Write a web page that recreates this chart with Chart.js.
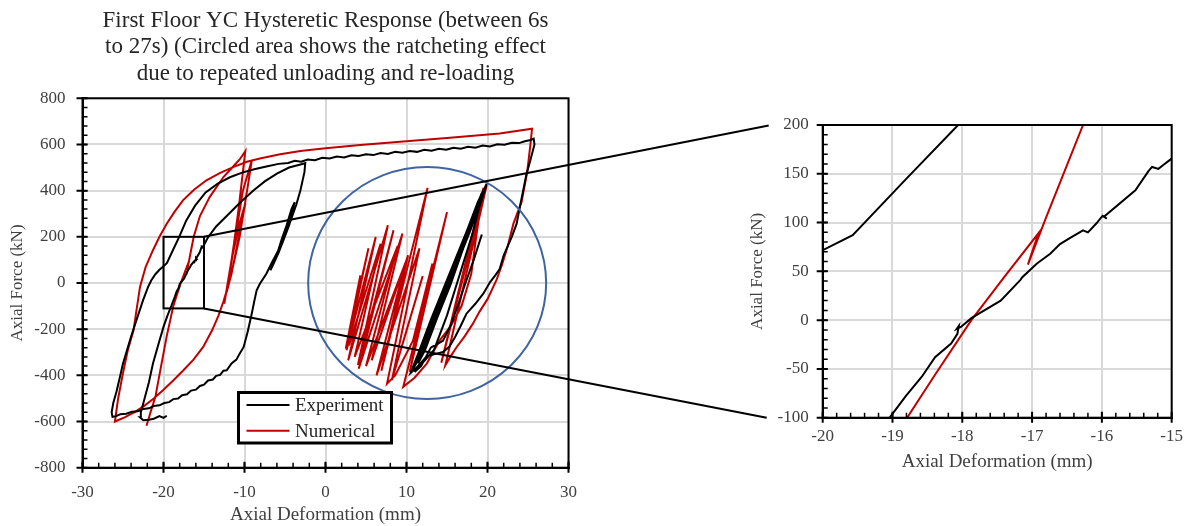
<!DOCTYPE html>
<html><head><meta charset="utf-8">
<script src="https://cdn.jsdelivr.net/npm/chart.js@4/dist/chart.umd.min.js"></script>
<style>
html,body{margin:0;padding:0;background:#fff;overflow:hidden}
#wrap{position:relative;width:1192px;height:526px}
canvas{position:absolute;left:0;top:0}
</style></head>
<body><div id="wrap"><canvas id="c1" width="1192" height="526"></canvas><canvas id="c2" width="1192" height="526"></canvas></div>
<script>
// ---------- DATA (Axial Deformation mm, Axial Force kN) ----------
const titleLines = ['First Floor YC Hysteretic Response (between 6s','to 27s) (Circled area shows the ratcheting effect','due to repeated unloading and re-loading'];
const seriesNames = ['Experiment','Numerical'];
const xTitle = 'Axial Deformation (mm)';
const yTitle = 'Axial Force (kN)';
const mainXTicks = [-30,-20,-10,0,10,20,30];
const mainYTicks = [-800,-600,-400,-200,0,200,400,600,800];
const zoomXTicks = [-20,-19,-18,-17,-16,-15];
const zoomYTicks = [-100,-50,0,50,100,150,200];

// Experiment (black) segments
const expStartTail = [[-19.6,-575],[-20.0,-584],[-20.5,-576],[-21.2,-588],[-21.8,-592],[-22.5,-594],[-22.9,-582]];
const expInnerRise = [[-22.8,-560],[-22.5,-522],[-21.8,-430],[-21.3,-349],[-20.6,-262],[-20.0,-190],[-19.5,-140],[-19.03,-99],[-18.81,-78],[-18.58,-58],[-18.39,-38],[-18.16,-24],[-18.07,-14],[-18.05,-6],[-18.08,-9],[-18.02,-7],[-17.87,2],[-17.45,20],[-17.17,41],[-17.14,44],[-16.93,58],[-16.74,68],[-16.6,78],[-16.46,84],[-16.27,92],[-16.2,90],[-16.08,99],[-15.99,107],[-15.93,104],[-15.97,106],[-15.52,133],[-15.33,153],[-15.28,157],[-15.19,155],[-15.12,159],[-15.01,165],[-14.5,198],[-13.5,245],[-12.2,290],[-10.5,350],[-8.9,401],[-7.5,440],[-6.0,474],[-4.5,500],[-3.2,512],[-2.5,519]];
const expUnloadBand = [[-2.6,480],[-3.1,401],[-3.6,340],[-4.0,300],[-4.6,240],[-5.2,185],[-5.8,130],[-6.4,84],[-6.8,55],[-6.2,100],[-5.4,190],[-4.8,250],[-4.2,320],[-3.8,350],[-4.3,290],[-5.0,215],[-5.7,150],[-6.6,90],[-7.3,40],[-8.1,-3]];
const expLowerBranch = [[-8.5,-32],[-8.8,-80],[-9.1,-132],[-9.6,-210],[-10.1,-277],[-10.6,-306],[-11.0,-332],[-11.6,-348],[-12.2,-378],[-12.6,-380],[-13.0,-398],[-13.5,-402],[-13.9,-418],[-14.5,-422],[-15.0,-440],[-15.5,-446],[-16.0,-462],[-16.6,-466],[-17.1,-482],[-17.7,-486],[-18.2,-500],[-18.8,-503],[-19.3,-516],[-19.9,-520],[-20.5,-530],[-21.2,-533],[-21.8,-543],[-22.5,-546],[-23.2,-556],[-23.9,-558],[-24.6,-566],[-25.3,-568],[-25.9,-577],[-26.3,-580]];
const expOuterRise = [[-26.4,-560],[-26.2,-520],[-25.8,-470],[-25.4,-410],[-25.0,-349],[-24.5,-290],[-24.0,-232],[-23.5,-178],[-23.0,-125],[-22.5,-72],[-21.9,-17],[-21.5,12],[-21.0,38],[-20.5,57],[-19.99,72],[-19.57,87],[-18.8,145],[-18.06,200],[-17.2,270],[-16.1,335],[-14.8,392],[-13.3,430],[-11.8,458],[-10.3,478],[-8.8,493],[-7.3,505],[-5.8,516],[-4.6,520],[-3.8,529],[-3.0,525],[-2.2,535],[-1.3,532],[-0.4,542],[0.5,539],[1.4,548],[2.3,544],[3.2,553],[4.1,550],[5.0,558],[5.9,554],[6.8,563],[7.7,559],[8.6,568],[9.5,564],[10.4,572],[11.3,568],[12.2,577],[13.1,573],[14.0,581],[14.9,577],[15.8,586],[16.7,582],[17.6,590],[18.5,586],[19.4,595],[20.3,591],[21.2,601],[22.1,599],[23.0,607],[23.9,606],[24.6,614],[25.2,618],[25.7,625]];
const expRightUnload = [[25.8,600],[25.5,560],[25.2,520],[24.8,470],[24.4,400],[24.0,330],[23.6,257],[23.0,200],[22.5,160],[22.0,120],[21.5,60],[21.0,35],[20.3,3],[19.5,-45],[18.5,-90],[17.4,-133],[16.7,-185],[16.0,-234],[15.3,-275],[14.5,-299],[13.5,-308],[12.5,-317],[11.8,-345],[11.1,-372],[10.5,-390]];
const expRatchet = [[11.5,-300],[13.0,-160],[14.5,-30],[16.0,100],[17.5,230],[18.8,350],[19.9,430],[19.2,350],[17.8,220],[16.2,80],[14.6,-60],[13.0,-200],[11.6,-320],[10.8,-375],[11.9,-280],[13.4,-150],[15.0,0],[16.6,150],[18.2,290],[19.6,410],[18.9,330],[17.2,170],[15.6,20],[14.0,-120],[12.4,-260],[11.2,-350],[12.2,-270],[13.8,-120],[15.4,30],[17.0,180],[18.5,320],[19.3,390],[18.4,290],[16.8,130],[15.2,-20],[13.6,-160],[12.0,-310],[11.4,-345],[12.6,-240],[14.2,-90],[15.8,60],[17.4,210],[18.9,350],[19.7,415],[18.7,310],[17.0,150],[15.4,-10],[13.8,-150],[12.3,-290],[11.7,-330],[12.2,-250],[13.6,-130],[15.2,20],[16.9,170],[18.6,330],[19.5,400],[18.2,220],[16.6,40],[15.0,-140],[13.4,-290],[11.0,-385],[11.8,-360],[13.0,-280],[14.5,-250],[15.5,-180],[16.5,-80],[17.4,12],[18.3,100],[19.3,210]];

// Numerical (red) segments
const numInnerRise = [[-22.1,-618],[-21.6,-560],[-21.0,-493],[-20.3,-360],[-19.6,-230],[-19.1,-150],[-18.79,-100],[-18.4,-57],[-17.87,0],[-17.4,44],[-16.91,89],[-17.06,57],[-16.8,105],[-16.27,200],[-15.5,290],[-14.3,372],[-12.6,459],[-11.2,512],[-10.6,535],[-9.9,571]];
const numPeakCycles = [[-10.2,480],[-10.7,330],[-11.3,170],[-11.9,30],[-12.5,-90],[-11.6,100],[-10.6,260],[-9.9,344],[-10.6,220],[-11.6,40],[-12.2,-40],[-11.2,180],[-10.2,400],[-9.1,531]];
const numLowerBranch = [[-9.5,440],[-10.0,330],[-10.6,200],[-11.3,90],[-12.0,-10],[-12.6,-80],[-13.2,-140],[-14.0,-205],[-15.1,-277],[-16.3,-332],[-17.6,-380],[-18.8,-422],[-20.0,-462],[-21.2,-500],[-22.3,-530],[-23.5,-558],[-24.8,-582],[-26.0,-600]];
const numOuterRise = [[-25.6,-500],[-25.0,-390],[-24.4,-290],[-23.7,-205],[-23.3,-110],[-22.9,-17],[-22.2,70],[-21.3,142],[-20.5,200],[-19.6,257],[-18.6,310],[-17.6,358],[-16.2,405],[-14.7,445],[-13.0,477],[-11.4,502],[-9.7,525],[-8.1,539],[-5.6,558],[-3.1,572],[0.0,584],[4.3,598],[9.2,612],[15.0,628],[21.5,648],[25.5,668]];
const numRightUnload = [[25.3,600],[24.9,480],[24.2,350],[23.2,257],[22.5,160],[21.8,80],[21.1,12],[20.0,-70],[19.0,-125],[18.2,-176],[17.2,-230],[16.2,-277],[15.4,-320],[14.8,-356]];
const numRatchet = [[19.9,423],[14.3,-345],[19.5,412],[18.6,200],[18.0,40],[16.8,-100],[15.4,-190],[14.1,-248],[12.5,-349],[11.0,-410],[9.6,-450],[15.0,307],[10.4,-385],[13.2,84],[10.8,-250],[8.6,-400],[7.6,-436],[12.6,412],[6.9,-380],[10.2,120],[5.7,-335],[9.5,214],[4.1,-371],[8.4,228],[4.0,-355],[7.7,250],[2.8,-335],[6.2,199],[2.6,-291],[5.3,150],[2.5,-285],[4.3,33],[2.9,-270],[6.8,170],[3.6,-320],[8.9,160],[5.0,-360],[9.9,90],[6.3,-400],[11.6,150],[8.2,-420],[12.0,30],[9.2,-300]];

// Annotations (data coordinates)
const zoomBox = {xMin:-20, xMax:-15, yMin:-110, yMax:200};
const ratchetCircle = {x:12.55, y:0};

// ---------- BUILD ----------
const experiment = [].concat(expStartTail, expInnerRise, expUnloadBand, expLowerBranch, expOuterRise, expRightUnload, expRatchet).map(([x,y])=>({x,y}));
const numerical = [].concat(numInnerRise, numPeakCycles, numLowerBranch, numOuterRise, numRightUnload, numRatchet).map(([x,y])=>({x,y}));

const SERIF = '"Liberation Serif", "Times New Roman", serif';
const TXT = '#404040';
const BLACK = '#000000', RED = '#c00000', BLUE = '#3f64a0';

function datasets(clip){
  return [
    {label:seriesNames[0], data:experiment, showLine:true, borderColor:BLACK, backgroundColor:BLACK, borderWidth:2, pointRadius:0, clip},
    {label:seriesNames[1], data:numerical, showLine:true, borderColor:RED, backgroundColor:RED, borderWidth:2, pointRadius:0, clip}
  ];
}

function axisDecor(chart, xMinor, yMinor){
  const {ctx, chartArea:a, scales:{x,y}} = chart;
  ctx.save();
  ctx.strokeStyle = '#000';
  ctx.lineWidth = 2;
  ctx.strokeRect(a.left, a.top, a.right-a.left, a.bottom-a.top);
  ctx.beginPath();
  ctx.lineWidth = 2;
  x.ticks.forEach(t=>{const p=x.getPixelForValue(t.value); ctx.moveTo(p,a.bottom+5); ctx.lineTo(p,a.bottom-6);});
  y.ticks.forEach(t=>{const p=y.getPixelForValue(t.value); ctx.moveTo(a.left-6,p); ctx.lineTo(a.left+5,p);});
  ctx.stroke();
  ctx.beginPath();
  ctx.lineWidth = 1.5;
  for(let v=x.min; v<=x.max+1e-9; v+=xMinor){const p=x.getPixelForValue(v); ctx.moveTo(p,a.bottom); ctx.lineTo(p,a.bottom-5);}
  for(let v=y.min; v<=y.max+1e-9; v+=yMinor){const p=y.getPixelForValue(v); ctx.moveTo(a.left,p); ctx.lineTo(a.left+5,p);}
  ctx.stroke();
  ctx.restore();
}

function scaleOpts(min,max,step,ticksArr,isX,labPad,titlePad,fit){
  return {
    type:'linear', min, max,
    afterBuildTicks: s => { s.ticks = ticksArr.map(v=>({value:v})); },
    ticks:{stepSize:step, font:{family:SERIF,size:17}, color:TXT, padding:labPad},
    grid:{color:'#d9d9d9', lineWidth:2, drawTicks:false},
    border:{display:true, color:'#000', width:2},
    title:{display:true, text:isX?xTitle:yTitle, font:{family:SERIF,size:isX?19:17}, color:TXT, padding:{top:titlePad,bottom:titlePad}},
    afterFit: s => { if(isX) s.height = fit; else s.width = fit; }
  };
}

const mainPlugin = {
  id:'mainDecor',
  afterDatasetsDraw(chart){
    const {ctx, chartArea:a, scales:{x,y}} = chart;
    axisDecor(chart, 2, 40);
    ctx.save();
    // circle
    ctx.strokeStyle = BLUE; ctx.lineWidth = 2;
    ctx.beginPath();
    ctx.ellipse(x.getPixelForValue(ratchetCircle.x), y.getPixelForValue(ratchetCircle.y), 119, 116, 0, 0, Math.PI*2);
    ctx.stroke();
    // zoom box
    ctx.strokeStyle = '#000'; ctx.lineWidth = 2;
    const bx0 = x.getPixelForValue(zoomBox.xMin), bx1 = x.getPixelForValue(zoomBox.xMax);
    const by0 = y.getPixelForValue(zoomBox.yMax), by1 = y.getPixelForValue(zoomBox.yMin);
    ctx.strokeRect(bx0, by0, bx1-bx0, by1-by0);
    // legend
    const L = {l:238.5, t:392.5, r:391.5, b:443};
    ctx.fillStyle = '#fff'; ctx.fillRect(L.l, L.t, L.r-L.l, L.b-L.t);
    ctx.lineWidth = 3; ctx.strokeStyle = '#000'; ctx.strokeRect(L.l, L.t, L.r-L.l, L.b-L.t);
    chart.data.datasets.forEach((ds,i)=>{
      const yy = 405 + i*25.7;
      ctx.strokeStyle = ds.borderColor; ctx.lineWidth = 2;
      ctx.beginPath(); ctx.moveTo(246.5, yy); ctx.lineTo(289.5, yy); ctx.stroke();
      ctx.fillStyle = '#262626'; ctx.font = '19px '+SERIF; ctx.textBaseline = 'middle'; ctx.textAlign = 'left';
      ctx.fillText(ds.label, 295, yy+1);
    });
    // title
    ctx.fillStyle = '#262626'; ctx.font = '23px '+SERIF; ctx.textAlign = 'center'; ctx.textBaseline = 'middle';
    const cx = (a.left + a.right)/2;
    titleLines.forEach((t,i)=> ctx.fillText(t, cx, 21 + i*26.3));
    ctx.restore();
  }
};

const chart1 = new Chart(document.getElementById('c1'), {
  type:'scatter',
  data:{datasets:datasets(false)},
  options:{
    responsive:false, animation:false, events:[],
    layout:{padding:{left:0, right:623.5, top:98.3, bottom:0}},
    plugins:{legend:{display:false}, tooltip:{enabled:false}},
    scales:{
      x: scaleOpts(-30,30,10,mainXTicks,true,15,0,58.3),
      y: scaleOpts(-800,800,200,mainYTicks,false,17,7,82.5)
    }
  },
  plugins:[mainPlugin]
});

const zoomPlugin = {
  id:'zoomDecor',
  afterDatasetsDraw(chart){
    const {ctx, chartArea:a} = chart;
    axisDecor(chart, 0.2, 10);
    // connector lines from the zoom box in main chart
    const x1 = chart1.scales.x, y1 = chart1.scales.y;
    const bx = x1.getPixelForValue(zoomBox.xMax);
    ctx.save();
    ctx.strokeStyle = '#000'; ctx.lineWidth = 2;
    ctx.beginPath();
    ctx.moveTo(bx, y1.getPixelForValue(zoomBox.yMax)); ctx.lineTo(a.left-54, a.top+0.5);
    ctx.moveTo(bx, y1.getPixelForValue(zoomBox.yMin)); ctx.lineTo(a.left-56, a.bottom);
    ctx.stroke();
    ctx.restore();
  }
};

const chart2 = new Chart(document.getElementById('c2'), {
  type:'scatter',
  data:{datasets:datasets(0)},
  options:{
    responsive:false, animation:false, events:[],
    layout:{padding:{left:740, right:15.3, top:125, bottom:53}},
    plugins:{legend:{display:false}, tooltip:{enabled:false}},
    scales:{
      x: scaleOpts(-20,-15,1,zoomXTicks,true,9,0,55.3),
      y: scaleOpts(-100,200,50,zoomYTicks,false,14,7,82.7)
    }
  },
  plugins:[zoomPlugin]
});
</script>
</body></html>
